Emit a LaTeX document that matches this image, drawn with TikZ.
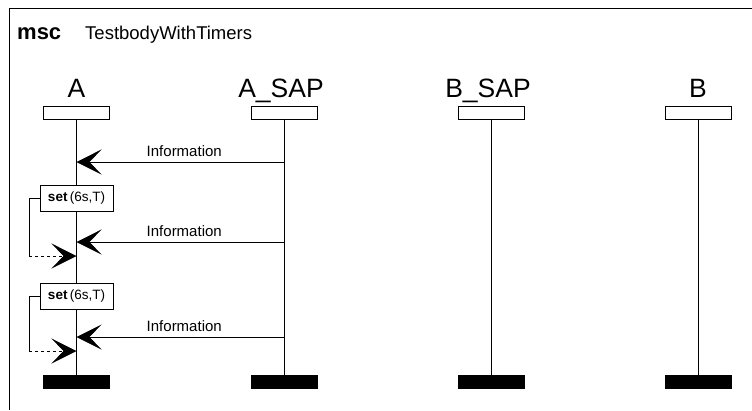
\documentclass[tikz,border=0pt]{standalone}
\usepackage{fontspec}
\setmainfont{Liberation Sans}
\usetikzlibrary{arrows.meta,positioning}
\tikzstyle{head} = [rectangle, draw=black, fill=white, line width=0.8pt, minimum width=66pt, minimum height=13pt, inner sep=0pt]
\tikzstyle{tail} = [rectangle, fill=black, minimum width=67pt, minimum height=14pt, inner sep=0pt]
\tikzstyle{instname} = [anchor=base, inner sep=0pt, font=\fontsize{26.5}{26.5}\selectfont]
\tikzstyle{lifeline} = [line width=0.8pt]
\tikzstyle{timerbox} = [rectangle, draw=black, fill=white, line width=0.8pt, minimum width=73pt, minimum height=26pt, inner sep=0pt, font=\fontsize{13.5}{14}\selectfont]
\tikzstyle{msg} = [line width=0.8pt, -{Stealth[length=25pt,width=25pt,inset=12pt]}]
\tikzstyle{timeout} = [line width=0.8pt, dash pattern=on 3pt off 3pt, -{Stealth[length=25pt,width=25pt,inset=12pt]}]
\tikzstyle{msglabel} = [above=4pt, inner sep=1pt, font=\fontsize{15}{15}\selectfont]
\begin{document}
\begin{tikzpicture}[x=1pt, y=-1pt]
\useasboundingbox (0,0) rectangle (752,410);
% frame
\draw[line width=0.8pt] (752,8) -- (9.5,8) -- (9.5,410);
\node (mscword) [anchor=base west, inner sep=0pt, font=\fontsize{22}{22}\selectfont\bfseries] at (17,39) {msc};
\node (title) [anchor=base west, inner sep=0pt, font=\fontsize{18.5}{18.5}\selectfont] at (85,39) {TestbodyWithTimers};
% instances
\node (nameA) [instname] at (76.5,97) {A};
\node (nameASAP) [instname] at (281,97) {A\_SAP};
\node (nameBSAP) [instname] at (488,97) {B\_SAP};
\node (nameB) [instname] at (698,97) {B};
\node (headA) [head] at (76.5,112.5) {};
\node (headASAP) [head] at (284,112.5) {};
\node (headBSAP) [head] at (491,112.5) {};
\node (headB) [head] at (698,112.5) {};
\node (tailA) [tail] at (76.5,382) {};
\node (tailASAP) [tail] at (284,382) {};
\node (tailBSAP) [tail] at (491,382) {};
\node (tailB) [tail] at (698,382) {};
\draw [lifeline] (headA) -- (tailA);
\draw [lifeline] (headASAP) -- (tailASAP);
\draw [lifeline] (headBSAP) -- (tailBSAP);
\draw [lifeline] (headB) -- (tailB);
% timers
\node (set1) [timerbox] at (76.5,198.5) {\textbf{set}\,(6s,T)};
\node (set2) [timerbox] at (76.5,296) {\textbf{set}\,(6s,T)};
\coordinate (t1corner) at (29,256);
\coordinate (t1end) at (76.5,256);
\coordinate (t2corner) at (29,351);
\coordinate (t2end) at (76.5,351);
\draw [lifeline] (set1.west) -| (t1corner);
\draw [timeout] (t1corner) -- (t1end);
\draw [lifeline] (set2.west) -| (t2corner);
\draw [timeout] (t2corner) -- (t2end);
% messages
\coordinate (m1from) at (284,162);
\coordinate (m1to) at (76.5,162);
\coordinate (m2from) at (284,242);
\coordinate (m2to) at (76.5,242);
\coordinate (m3from) at (284,337);
\coordinate (m3to) at (76.5,337);
\draw [msg] (m1from) -- node[msglabel, xshift=4pt] {Information} (m1to);
\draw [msg] (m2from) -- node[msglabel, xshift=4pt] {Information} (m2to);
\draw [msg] (m3from) -- node[msglabel, xshift=4pt] {Information} (m3to);
\end{tikzpicture}
\end{document}
